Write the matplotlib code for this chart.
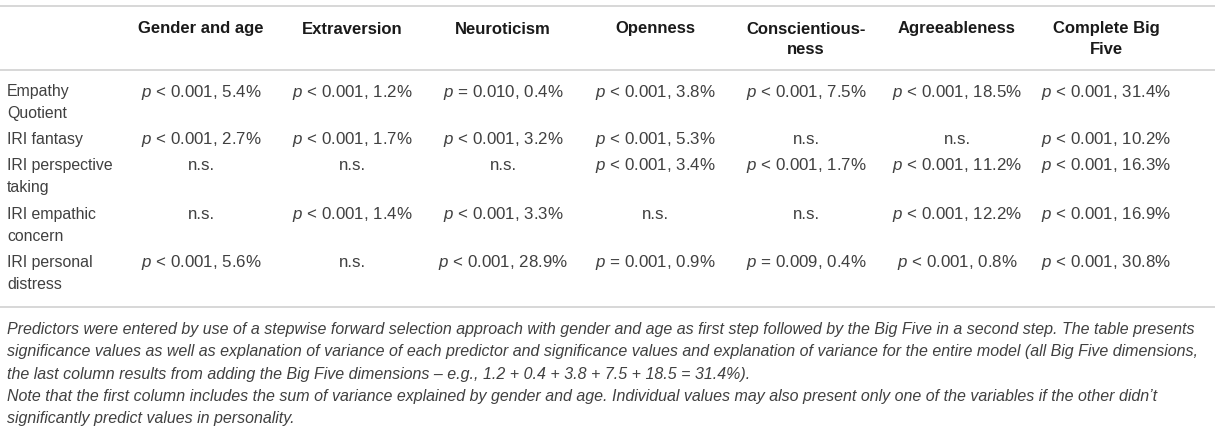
import matplotlib
matplotlib.use("Agg")
import matplotlib.pyplot as plt

# ---- data ----
columns = ["Gender and age", "Extraversion", "Neuroticism", "Openness",
           "Conscientious-\nness", "Agreeableness", "Complete Big\nFive"]
rows = ["Empathy\nQuotient", "IRI fantasy", "IRI perspective\ntaking",
        "IRI empathic\nconcern", "IRI personal\ndistress"]
# relation sign of p (None = n.s.)
p_rel = [
    ["<", "<", "=", "<", "<", "<", "<"],
    ["<", "<", "<", "<", None, None, "<"],
    [None, None, None, "<", "<", "<", "<"],
    [None, "<", "<", None, None, "<", "<"],
    ["<", None, "<", "=", "=", "<", "<"],
]
p_val = [
    ["0.001", "0.001", "0.010", "0.001", "0.001", "0.001", "0.001"],
    ["0.001", "0.001", "0.001", "0.001", None, None, "0.001"],
    [None, None, None, "0.001", "0.001", "0.001", "0.001"],
    [None, "0.001", "0.001", None, None, "0.001", "0.001"],
    ["0.001", None, "0.001", "0.001", "0.009", "0.001", "0.001"],
]
var_pct = [
    [5.4, 1.2, 0.4, 3.8, 7.5, 18.5, 31.4],
    [2.7, 1.7, 3.2, 5.3, None, None, 10.2],
    [None, None, None, 3.4, 1.7, 11.2, 16.3],
    [None, 1.4, 3.3, None, None, 12.2, 16.9],
    [5.6, None, 28.9, 0.9, 0.4, 0.8, 30.8],
]
footnote = [
    "Predictors were entered by use of a stepwise forward selection approach with gender and age as first step followed by the Big Five in a second step. The table presents",
    "significance values as well as explanation of variance of each predictor and significance values and explanation of variance for the entire model (all Big Five dimensions,",
    "the last column results from adding the Big Five dimensions \u2013 e.g., 1.2 + 0.4 + 3.8 + 7.5 + 18.5 = 31.4%).",
    "Note that the first column includes the sum of variance explained by gender and age. Individual values may also present only one of the variables if the other didn\u2019t",
    "significantly predict values in personality.",
]

# ---- style ----
plt.rcParams["font.family"] = ["Liberation Sans", "DejaVu Sans"]
plt.rcParams["mathtext.fontset"] = "custom"
plt.rcParams["mathtext.it"] = "Liberation Sans:italic"
plt.rcParams["mathtext.rm"] = "Liberation Sans"

W, H = 1215, 427
fig = plt.figure(figsize=(W / 100, H / 100), dpi=100)
ax = fig.add_axes([0, 0, 1, 1])
ax.set_xlim(0, W)
ax.set_ylim(H, 0)
ax.axis("off")

body_color = "#404040"
line_color = "#d4d4d4"
fs_label = 11.4
fs_head = 12.0
fs_cell = 12.2
fs_foot = 11.5

col_x = [201, 352, 503, 655, 806, 957, 1106]
label_x = 7
header_y = 30
row_y = [92, 140, 166, 215, 263]

for y in (7, 71, 308):
    ax.plot([0, W], [y, y], color=line_color, lw=1.3, solid_capstyle="butt")

for cx, name in zip(col_x, columns):
    ax.text(cx, header_y - 8.5, name, ha="center", va="top", fontsize=fs_head,
            fontweight="bold", color="#1a1a1a", linespacing=1.45)

for ry, name, rels, vals, pcts in zip(row_y, rows, p_rel, p_val, var_pct):
    ax.text(label_x, ry - 8, name, ha="left", va="top", fontsize=fs_label,
            color=body_color, linespacing=1.55)
    for cx, r, v, pc in zip(col_x, rels, vals, pcts):
        if r is None:
            s = "n.s."
        else:
            s = f"$p$ {r} {v}, {pc:.1f}%"
        ax.text(cx, ry, s, ha="center", va="center", fontsize=fs_cell, color=body_color)

foot_y = [330, 352, 375, 397, 419]
for fy, line in zip(foot_y, footnote):
    ax.text(label_x, fy, line, ha="left", va="center", fontsize=fs_foot,
            style="italic", color=body_color)

fig.savefig("out.png", dpi=100)
